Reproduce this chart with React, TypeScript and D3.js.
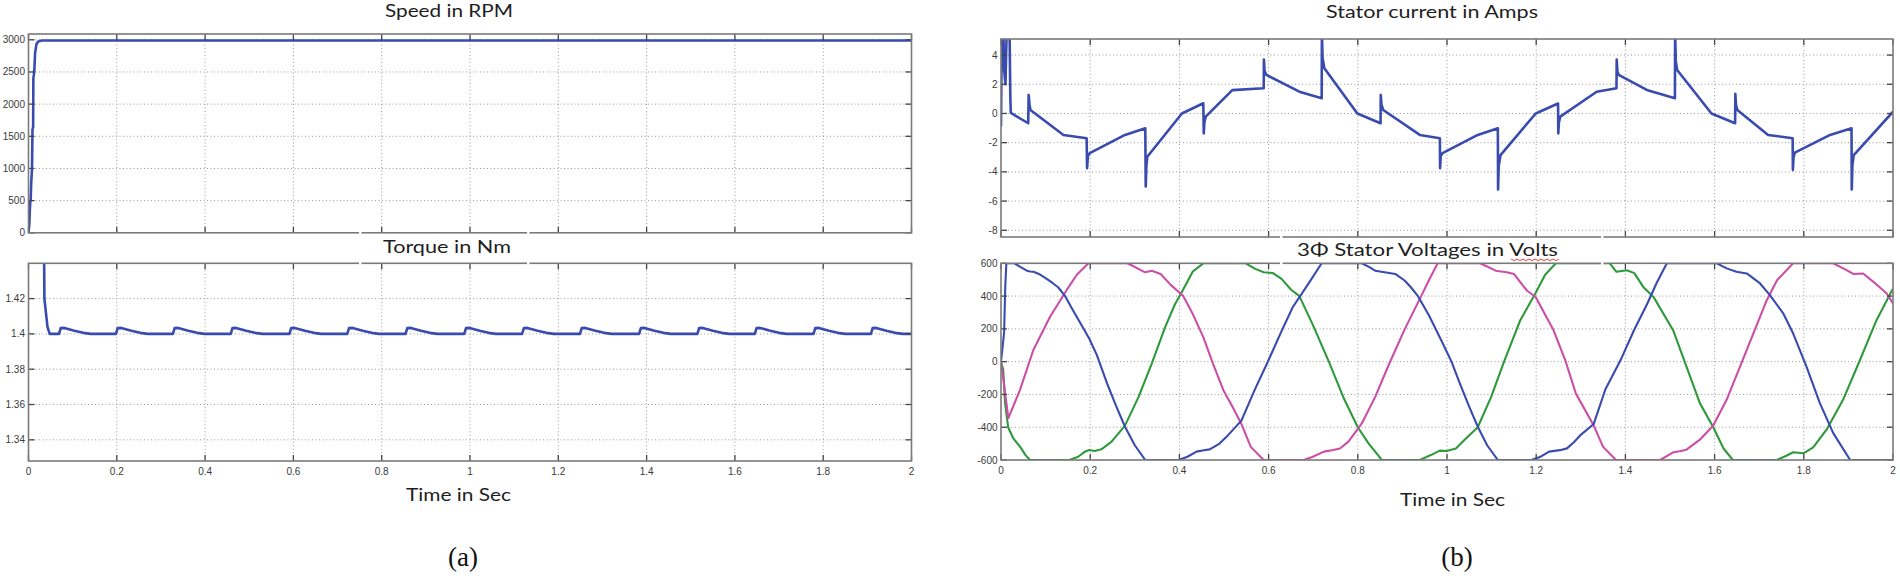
import React from "react";
import * as d3 from "d3";

type P = [number, number];

// ---------- tick values / labels ----------
const timeTicks = [0, 0.2, 0.4, 0.6, 0.8, 1, 1.2, 1.4, 1.6, 1.8, 2];
const timeLabels = ["0", "0.2", "0.4", "0.6", "0.8", "1", "1.2", "1.4", "1.6", "1.8", "2"];
const speedTicks = [0, 500, 1000, 1500, 2000, 2500, 3000];
const speedLabels = ["0", "500", "1000", "1500", "2000", "2500", "3000"];
const torqueTicks = [1.34, 1.36, 1.38, 1.4, 1.42];
const torqueLabels = ["1.34", "1.36", "1.38", "1.4", "1.42"];
const currentTicks = [-8, -6, -4, -2, 0, 2, 4];
const currentLabels = ["-8", "-6", "-4", "-2", "0", "2", "4"];
const voltTicks = [-600, -400, -200, 0, 200, 400, 600];
const voltLabels = ["-600", "-400", "-200", "0", "200", "400", "600"];

// ---------- series (time s, value) ----------
const speedRPM: P[] = [
  [0, 0], [0.002, 150], [0.003, 350], [0.004, 480], [0.005, 520], [0.006, 750],
  [0.008, 1000], [0.009, 1600], [0.0105, 1650], [0.011, 2400], [0.013, 2500],
  [0.015, 2800], [0.018, 2930], [0.022, 2975], [0.03, 2988], [2, 2988],
];

const torqueNm: P[] = [
  [0, 1.6], [0.031, 1.6], [0.036, 1.42], [0.043, 1.404], [0.048, 1.4], [0.069, 1.4],
  [0.073, 1.4033], [0.081, 1.4034], [0.104, 1.4018], [0.124, 1.4006], [0.141, 1.4], [0.198, 1.4],
  [0.202, 1.4033], [0.21, 1.4034], [0.233, 1.4018], [0.253, 1.4006], [0.27, 1.4], [0.327, 1.4],
  [0.331, 1.4033], [0.339, 1.4034], [0.362, 1.4018], [0.382, 1.4006], [0.399, 1.4], [0.458, 1.4],
  [0.462, 1.4033], [0.47, 1.4034], [0.493, 1.4018], [0.513, 1.4006], [0.53, 1.4], [0.591, 1.4],
  [0.595, 1.4033], [0.603, 1.4034], [0.626, 1.4018], [0.646, 1.4006], [0.663, 1.4], [0.722, 1.4],
  [0.726, 1.4033], [0.734, 1.4034], [0.757, 1.4018], [0.777, 1.4006], [0.794, 1.4], [0.854, 1.4],
  [0.858, 1.4033], [0.866, 1.4034], [0.889, 1.4018], [0.909, 1.4006], [0.926, 1.4], [0.987, 1.4],
  [0.991, 1.4033], [0.999, 1.4034], [1.022, 1.4018], [1.042, 1.4006], [1.059, 1.4], [1.118, 1.4],
  [1.122, 1.4033], [1.13, 1.4034], [1.153, 1.4018], [1.173, 1.4006], [1.19, 1.4], [1.249, 1.4],
  [1.253, 1.4033], [1.261, 1.4034], [1.284, 1.4018], [1.304, 1.4006], [1.321, 1.4], [1.383, 1.4],
  [1.387, 1.4033], [1.395, 1.4034], [1.418, 1.4018], [1.438, 1.4006], [1.455, 1.4], [1.515, 1.4],
  [1.519, 1.4033], [1.527, 1.4034], [1.55, 1.4018], [1.57, 1.4006], [1.587, 1.4], [1.645, 1.4],
  [1.649, 1.4033], [1.657, 1.4034], [1.68, 1.4018], [1.7, 1.4006], [1.717, 1.4], [1.778, 1.4],
  [1.782, 1.4033], [1.79, 1.4034], [1.813, 1.4018], [1.833, 1.4006], [1.85, 1.4], [1.908, 1.4],
  [1.912, 1.4033], [1.92, 1.4034], [1.943, 1.4018], [1.963, 1.4006], [1.98, 1.4], [2, 1.4],
];

const statorCurrent: P[] = [
  [0, -0.9], [0.002, 6], [0.005, 6], [0.007, 3], [0.01, 2], [0.013, 6], [0.016, 6], [0.019, 6],
  [0.021, 1], [0.022, 0.05], [0.024, 0],
  [0.061, -0.67], [0.062, 1.27], [0.064, 0.6], [0.066, 0.24], [0.14, -1.47], [0.192, -1.7],
  [0.193, -3.75], [0.195, -2.9], [0.199, -2.72], [0.278, -1.47], [0.3235, -1.01],
  [0.3245, -5.0], [0.326, -3.6], [0.328, -2.96], [0.4056, 0.0], [0.4536, 0.7],
  [0.4546, -1.36], [0.456, -0.6], [0.459, -0.22], [0.5186, 1.6], [0.589, 1.73],
  [0.5895, 3.7], [0.591, 2.9], [0.595, 2.64], [0.669, 1.49], [0.719, 1.04],
  [0.7195, 5.5], [0.721, 3.8], [0.725, 3.1], [0.799, 0.0], [0.851, -0.67],
  [0.8515, 1.27], [0.853, 0.6], [0.857, 0.24], [0.939, -1.47], [0.984, -1.7],
  [0.9845, -3.75], [0.986, -2.9], [0.99, -2.72], [1.069, -1.47], [1.114, -1.01],
  [1.1145, -5.2], [1.116, -3.6], [1.12, -2.85], [1.199, 0], [1.249, 0.68],
  [1.2495, -1.36], [1.251, -0.6], [1.254, -0.22], [1.3356, 1.49], [1.38, 1.73],
  [1.3805, 3.7], [1.382, 2.9], [1.385, 2.64], [1.448, 1.61], [1.511, 1.04],
  [1.5115, 5.5], [1.513, 3.6], [1.516, 2.98], [1.593, 0], [1.646, -0.67],
  [1.6465, 1.34], [1.648, 0.6], [1.651, 0.24], [1.72, -1.47], [1.775, -1.7],
  [1.7755, -3.86], [1.777, -3.0], [1.78, -2.68], [1.859, -1.47], [1.907, -1.01],
  [1.9075, -5.2], [1.909, -3.5], [1.912, -2.85], [2.0, 0.12],
];

// phase A (blue)
const phaseA: P[] = [
  [0, 0], [0.004, 100], [0.007, 180], [0.0095, 450], [0.012, 600], [0.03, 600], [0.045, 575],
  [0.058, 555], [0.065, 550], [0.073, 548], [0.085, 535], [0.1, 510], [0.117, 477], [0.128, 454],
  [0.143, 403], [0.16, 320], [0.183, 211], [0.198, 140], [0.215, 40], [0.238, -134], [0.258, -270],
  [0.278, -397], [0.3, -510], [0.3235, -600], [0.3985, -600], [0.418, -580], [0.4385, -549],
  [0.455, -540], [0.468, -535], [0.49, -500], [0.5086, -450], [0.539, -360], [0.5686, -174],
  [0.598, -2], [0.628, 180], [0.654, 332], [0.689, 474], [0.719, 600], [0.809, 600], [0.825, 578],
  [0.839, 555], [0.86, 545], [0.884, 535], [0.905, 495], [0.919, 454], [0.934, 403], [0.96, 280],
  [0.989, 120], [1.01, 0], [1.029, -134], [1.049, -270], [1.069, -397], [1.09, -510], [1.114, -600],
  [1.189, -600], [1.21, -580], [1.229, -549], [1.253, -540], [1.269, -529], [1.285, -490],
  [1.2986, -450], [1.329, -380], [1.355, -170], [1.389, 8], [1.419, 190], [1.449, 353], [1.47, 480],
  [1.493, 600], [1.605, 600], [1.627, 569], [1.649, 548], [1.672, 538], [1.702, 477], [1.724, 406],
  [1.754, 294], [1.776, 173], [1.806, -30], [1.836, -253], [1.866, -436], [1.904, -600], [2.0, -600],
];

// phase B (magenta)
const phaseB: P[] = [
  [0, 0], [0.006, -120], [0.0164, -344], [0.0426, -172], [0.0725, 71], [0.11, 274], [0.147, 436],
  [0.17, 530], [0.196, 600], [0.283, 600], [0.295, 585], [0.308, 566], [0.323, 545], [0.338, 555],
  [0.358, 535], [0.38, 470], [0.4085, 400], [0.43, 290], [0.4536, 150], [0.475, -10],
  [0.4986, -174], [0.52, -280], [0.539, -380], [0.56, -520], [0.589, -600], [0.679, -600],
  [0.699, -580], [0.724, -549], [0.745, -539], [0.76, -530], [0.779, -488], [0.809, -377],
  [0.839, -215], [0.869, -22], [0.904, 191], [0.939, 383], [0.96, 500], [0.979, 600],
  [1.074, 600], [1.09, 580], [1.109, 555], [1.134, 545], [1.15, 535], [1.179, 434], [1.199, 393],
  [1.239, 191], [1.265, 10], [1.289, -195], [1.329, -390], [1.35, -520], [1.379, -600],
  [1.478, -600], [1.507, -553], [1.522, -547], [1.537, -537], [1.567, -476], [1.597, -390],
  [1.627, -233], [1.657, -30], [1.687, 173], [1.717, 375], [1.74, 497], [1.776, 600],
  [1.866, 600], [1.896, 558], [1.911, 535], [1.933, 538], [1.956, 487], [1.986, 416], [2.0, 355],
];

// phase C (green)
const phaseC: P[] = [
  [0, 0], [0.005, -50], [0.009, -250], [0.016, -400], [0.028, -470], [0.043, -520], [0.055, -570],
  [0.065, -600], [0.1533, -600], [0.173, -580], [0.188, -549], [0.198, -539], [0.21, -545],
  [0.225, -535], [0.248, -488], [0.278, -390], [0.3085, -215], [0.338, -12], [0.368, 211],
  [0.39, 350], [0.4085, 440], [0.43, 550], [0.4536, 600], [0.5487, 600], [0.57, 566], [0.589, 545],
  [0.61, 540], [0.629, 505], [0.65, 440], [0.669, 400], [0.7, 220], [0.735, 0], [0.768, -220],
  [0.8, -400], [0.824, -499], [0.854, -600], [0.939, -600], [0.964, -570], [0.984, -543],
  [0.999, -545], [1.02, -530], [1.039, -478], [1.069, -400], [1.099, -215], [1.129, 8],
  [1.164, 251], [1.199, 420], [1.22, 530], [1.244, 600], [1.365, 600], [1.38, 548], [1.403, 558],
  [1.42, 540], [1.44, 456], [1.463, 395], [1.507, 192], [1.537, -30], [1.567, -253], [1.597, -400],
  [1.62, -530], [1.641, -600], [1.739, -600], [1.761, -574], [1.776, -553], [1.799, -559],
  [1.821, -523], [1.851, -415], [1.888, -233], [1.926, 10], [1.963, 253], [2.0, 446],
];

const BLUE = "#3a4bb0";
const MAGENTA = "#cc4ea6";
const GREEN = "#2f9a3c";

type Series = { data: P[]; color: string; width: number };

type PanelProps = {
  id: string;
  x0: number; x1: number; y0: number; y1: number;
  yDomain: [number, number];
  yTicks: number[]; yLabels: string[];
  xLabels: boolean;
  series: Series[];
};

const LABEL_FONT = "'Liberation Sans', Arial, sans-serif";
const TITLE_FONT = "Lato, 'Open Sans', sans-serif";

function Panel(p: PanelProps) {
  const x = d3.scaleLinear().domain([0, 2]).range([p.x0, p.x1]);
  const y = d3.scaleLinear().domain(p.yDomain).range([p.y1, p.y0]);
  const line = d3.line<P>().x((d) => x(d[0])).y((d) => y(d[1]));
  const tl = 6;
  const innerX = timeTicks.filter((t) => x(t) > p.x0 + 1 && x(t) < p.x1 - 1);
  const innerY = p.yTicks.filter((v) => y(v) > p.y0 + 1 && y(v) < p.y1 - 1);
  return (
    <g>
      <defs>
        <clipPath id={p.id}>
          <rect x={p.x0} y={p.y0} width={p.x1 - p.x0} height={p.y1 - p.y0} />
        </clipPath>
      </defs>
      <rect x={p.x0} y={p.y0} width={p.x1 - p.x0} height={p.y1 - p.y0} fill="#fff" />
      {innerX.map((t) => (
        <line key={"gx" + t} x1={x(t)} x2={x(t)} y1={p.y0} y2={p.y1}
          stroke="#9a9a9a" strokeWidth={1} strokeDasharray="1,2.5" />
      ))}
      {innerY.map((v) => (
        <line key={"gy" + v} x1={p.x0} x2={p.x1} y1={y(v)} y2={y(v)}
          stroke="#9a9a9a" strokeWidth={1} strokeDasharray="1,2.5" />
      ))}
      <g clipPath={`url(#${p.id})`}>
        {p.series.map((s, i) => (
          <path key={i} d={line(s.data) || ""} fill="none" stroke={s.color}
            strokeWidth={s.width} strokeLinejoin="round" />
        ))}
      </g>
      {timeTicks.map((t) => (
        <g key={"tx" + t}>
          <line x1={x(t)} x2={x(t)} y1={p.y1} y2={p.y1 - tl} stroke="#444" strokeWidth={1.3} />
          <line x1={x(t)} x2={x(t)} y1={p.y0} y2={p.y0 + tl} stroke="#444" strokeWidth={1.3} />
        </g>
      ))}
      {p.yTicks.map((v) => (
        <g key={"ty" + v}>
          <line x1={p.x0} x2={p.x0 + tl} y1={y(v)} y2={y(v)} stroke="#444" strokeWidth={1.3} />
          <line x1={p.x1} x2={p.x1 - tl} y1={y(v)} y2={y(v)} stroke="#444" strokeWidth={1.3} />
        </g>
      ))}
      <rect x={p.x0} y={p.y0} width={p.x1 - p.x0} height={p.y1 - p.y0}
        fill="none" stroke="#7a7a7a" strokeWidth={1.6} />
      {p.yTicks.map((v, i) => (
        <text key={"ly" + v} x={p.x0 - 3.5} y={y(v)} textAnchor="end" dominantBaseline="central"
          fontFamily={LABEL_FONT} fontSize={10} fill="#3a3a3a">{p.yLabels[i]}</text>
      ))}
      {p.xLabels && timeTicks.map((t, i) => (
        <text key={"lx" + t} x={x(t)} y={p.y1 + 10.5} textAnchor="middle" dominantBaseline="central"
          fontFamily={LABEL_FONT} fontSize={10} fill="#3a3a3a">{timeLabels[i]}</text>
      ))}
    </g>
  );
}

function Title(props: { x: number; y: number; w: number; text: string; size?: number }) {
  return (
    <text x={props.x} y={props.y} textLength={props.w} lengthAdjust="spacingAndGlyphs"
      fontFamily={TITLE_FONT} fontSize={props.size || 17} fill="#1e1e1e">{props.text}</text>
  );
}

export default function App() {
  const L = { x0: 28.5, x1: 911.5 };
  const R = { x0: 1001, x1: 1893 };
  // red spell-check squiggle under "Volts"
  const sq: string[] = [];
  for (let i = 0; i <= 16; i++) {
    const xx = 1511 + i * 3;
    sq.push(`${i === 0 ? "M" : "L"}${xx},${259 + (i % 2 === 0 ? 0 : 1.6)}`);
  }
  return (
    <svg width={1900} height={581} viewBox="0 0 1900 581"
      style={{ position: "absolute", left: 0, top: 0, background: "#fff" }}>
      <rect x={0} y={0} width={1900} height={581} fill="#fff" />
      <Panel id="cpSpeed" x0={L.x0} x1={L.x1} y0={34} y1={232.8} yDomain={[0, 3090]}
        yTicks={speedTicks} yLabels={speedLabels} xLabels={false}
        series={[{ data: speedRPM, color: BLUE, width: 2.6 }]} />
      <Panel id="cpTorque" x0={L.x0} x1={L.x1} y0={263.3} y1={461} yDomain={[1.328, 1.44]}
        yTicks={torqueTicks} yLabels={torqueLabels} xLabels={true}
        series={[{ data: torqueNm, color: BLUE, width: 2.6 }]} />
      <Panel id="cpCurrent" x0={R.x0} x1={R.x1} y0={39} y1={237} yDomain={[-8.46, 5.1]}
        yTicks={currentTicks} yLabels={currentLabels} xLabels={false}
        series={[{ data: statorCurrent, color: BLUE, width: 2.6 }]} />
      <Panel id="cpVolt" x0={R.x0} x1={R.x1} y0={263.3} y1={460} yDomain={[-600, 600]}
        yTicks={voltTicks} yLabels={voltLabels} xLabels={true}
        series={[
          { data: phaseC, color: GREEN, width: 2.1 },
          { data: phaseB, color: MAGENTA, width: 2.1 },
          { data: phaseA, color: BLUE, width: 2.1 },
        ]} />

      {/* white gaps left by pasted title boxes */}
      <rect x={359} y={228} width={2.5} height={40} fill="#fff" />
      <rect x={527} y={228} width={2.5} height={40} fill="#fff" />
      <rect x={1280} y={232} width={2.5} height={36} fill="#fff" />
      <rect x={1601} y={232} width={2.5} height={36} fill="#fff" />

      <Title x={385} y={17} w={128} text="Speed in RPM" />
      <Title x={383} y={252.5} w={128} text="Torque in Nm" />
      <Title x={406} y={500.5} w={105} text="Time in Sec" />
      <Title x={1326} y={17.5} w={212} text="Stator current in Amps" />
      <Title x={1297} y={256} w={261} text="3Φ  Stator Voltages in Volts" />
      <path d={sq.join("")} fill="none" stroke="#e03020" strokeWidth={0.9} />
      <Title x={1400} y={505.5} w={105} text="Time in Sec" />

      <text x={463} y={566} textAnchor="middle" fontFamily="'Liberation Serif', 'Times New Roman', serif"
        fontSize={27} fill="#111">(a)</text>
      <text x={1457} y={566} textAnchor="middle" fontFamily="'Liberation Serif', 'Times New Roman', serif"
        fontSize={27} fill="#111">(b)</text>
    </svg>
  );
}
